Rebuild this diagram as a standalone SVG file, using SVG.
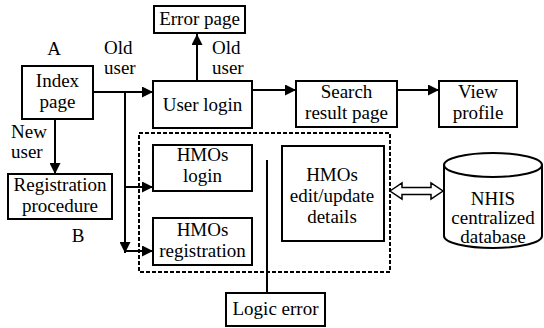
<svg xmlns="http://www.w3.org/2000/svg" width="544" height="328" viewBox="0 0 544 328">
<style>
.t{font-family:'Liberation Serif','Times New Roman','DejaVu Serif',serif;font-size:19px;fill:#000;text-anchor:middle}
.b{fill:#fff;stroke:#000;stroke-width:2}
.c{fill:none;stroke:#000;stroke-width:2}
.l{text-anchor:start}
</style>
<defs>
<marker id="ah" markerUnits="userSpaceOnUse" markerWidth="11" markerHeight="11" viewBox="0 0 11 11" refX="11" refY="5.5" orient="auto">
<path d="M0,0 L11,5.5 L0,11 z" fill="#000"/>
</marker>
</defs>
<rect width="544" height="328" fill="#fff"/>
<g id="connectors">
<path class="c" d="M93,92 H153" marker-end="url(#ah)"/>
<path class="c" d="M125,92 V252"/>
<path class="c" d="M125,240 V253" marker-end="url(#ah)"/>
<path class="c" d="M125,187 H153" marker-end="url(#ah)"/>
<path class="c" d="M125,251 H153" marker-end="url(#ah)"/>
<path class="c" d="M197,81 V34" marker-end="url(#ah)"/>
<path class="c" d="M252,90 H296" marker-end="url(#ah)"/>
<path class="c" d="M397,90 H439" marker-end="url(#ah)"/>
<path class="c" d="M55,119 V174" marker-end="url(#ah)"/>
<path class="c" d="M267,160 V293"/>
<polygon points="390,191 402,183 402,187.5 431,187.5 431,183 443,191 431,199 431,194.5 402,194.5 402,199" fill="#fff" stroke="#000" stroke-width="1.5"/>
</g>
<g id="connector-labels" font-family="Liberation Serif, serif" font-size="19">
<text class="t l" x="104" y="54">Old</text>
<text class="t l" x="104" y="74">user</text>
<text class="t l" x="212" y="54">Old</text>
<text class="t l" x="212" y="74">user</text>
<text class="t l" x="11" y="138">New</text>
<text class="t l" x="11" y="158">user</text>
</g>
<g id="dashed-group">
<rect x="139" y="133" width="251" height="139" fill="none" stroke="#000" stroke-width="2" stroke-dasharray="4,2"/>
</g>
<g id="label-A"><text class="t" x="54" y="55">A</text></g>
<g id="label-B"><text class="t" x="78" y="242">B</text></g>
<g id="error-page">
<rect class="b" x="154" y="6" width="91" height="27"/>
<text class="t" x="199.5" y="25">Error page</text>
</g>
<g id="index-page">
<rect class="b" x="22" y="66" width="71" height="53"/>
<text class="t" x="57.5" y="87">Index</text>
<text class="t" x="57.5" y="108">page</text>
</g>
<g id="user-login">
<rect class="b" x="153" y="81" width="99" height="47"/>
<text class="t" x="202.5" y="111">User login</text>
</g>
<g id="search-result">
<rect class="b" x="296" y="81" width="101" height="46"/>
<text class="t" x="346.5" y="98">Search</text>
<text class="t" x="346.5" y="119">result page</text>
</g>
<g id="view-profile">
<rect class="b" x="439" y="81" width="78" height="46"/>
<text class="t" x="478" y="98">View</text>
<text class="t" x="478" y="119">profile</text>
</g>
<g id="registration-procedure">
<rect class="b" x="8" y="174" width="104" height="45"/>
<text class="t" x="60" y="191">Registration</text>
<text class="t" x="60" y="212">procedure</text>
</g>
<g id="hmos-login">
<rect class="b" x="153" y="145" width="99" height="46"/>
<text class="t" x="202.5" y="161">HMOs</text>
<text class="t" x="202.5" y="182">login</text>
</g>
<g id="hmos-registration">
<rect class="b" x="153" y="218" width="99" height="47"/>
<text class="t" x="202.5" y="236">HMOs</text>
<text class="t" x="202.5" y="257">registration</text>
</g>
<g id="hmos-edit">
<rect class="b" x="282" y="146" width="102" height="95"/>
<text class="t" x="332" y="181">HMOs</text>
<text class="t" x="332" y="202">edit/update</text>
<text class="t" x="332" y="223">details</text>
</g>
<g id="logic-error">
<rect class="b" x="226" y="293" width="99" height="33"/>
<text class="t" x="275.5" y="315">Logic error</text>
</g>
<g id="nhis-database">
<path d="M444,165 V236 A49,12 0 0 0 542,236 V165" fill="#fff" stroke="#000" stroke-width="2"/>
<ellipse cx="493" cy="165" rx="49" ry="12" fill="#fff" stroke="#000" stroke-width="2"/>
<text class="t" x="493" y="205">NHIS</text>
<text class="t" x="493" y="224">centralized</text>
<text class="t" x="493" y="243">database</text>
</g>
</svg>
